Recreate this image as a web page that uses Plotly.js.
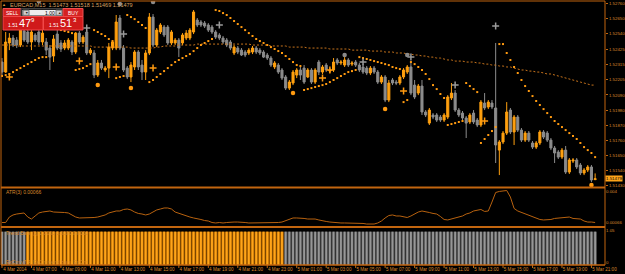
<!DOCTYPE html>
<html><head><meta charset="utf-8">
<script src="https://cdn.plot.ly/plotly-3.0.1.min.js"></script>
<style>html,body{margin:0;padding:0;background:#000;overflow:hidden}#chart{width:625px;height:274px}</style>
</head><body><div id="chart"></div>
<script>
// ---------- data ----------
const symbolTitle = 'EURCAD,M15  1.51473 1.51518 1.51469 1.51479';
const timeLabels = ['4 Mar 2014','4 Mar 07:00','4 Mar 09:00','4 Mar 11:00','4 Mar 13:00','4 Mar 15:00','4 Mar 17:00','4 Mar 19:00','4 Mar 21:00','4 Mar 23:00','5 Mar 01:00','5 Mar 03:00','5 Mar 05:00','5 Mar 07:00','5 Mar 09:00','5 Mar 11:00','5 Mar 13:00','5 Mar 15:00','5 Mar 17:00','5 Mar 19:00','5 Mar 21:00'];
const priceTicks = [1.52760,1.52650,1.52540,1.52425,1.52315,1.52205,1.52090,1.51980,1.51870,1.51760,1.51650,1.51540,1.51430];
const priceTickText = ['1.52760','1.52650','1.52540','1.52425','1.52315','1.52205','1.52090','1.51980','1.51870','1.51760','1.51650','1.51540','1.51430'];
const lastPrice = 1.51479;

const open = [1.52330,1.52257,1.52469,1.52505,1.52490,1.52454,1.52556,1.52549,1.52476,1.52527,
1.52549,1.52476,1.52476,1.52432,1.52374,1.52534,1.52469,1.52432,1.52432,1.52476,
1.52403,1.52541,1.52476,1.52549,1.52396,1.52396,1.52235,1.52323,1.52272,1.52286,
1.52432,1.52432,1.52651,1.52432,1.52286,1.52221,1.52294,1.52403,1.52308,1.52257,
1.52396,1.52658,1.52454,1.52549,1.52585,1.52585,1.52469,1.52469,1.52490,1.52469,
1.52505,1.52505,1.52549,1.52636,1.52622,1.52614,1.52600,1.52585,1.52549,1.52527,
1.52505,1.52490,1.52476,1.52396,1.52432,1.52417,1.52403,1.52396,1.52403,1.52432,
1.52417,1.52403,1.52381,1.52359,1.52294,1.52308,1.52272,1.52221,1.52140,1.52177,
1.52235,1.52272,1.52286,1.52221,1.52272,1.52184,1.52330,1.52257,1.52308,1.52264,
1.52272,1.52345,1.52323,1.52308,1.52345,1.52315,1.52330,1.52308,1.52294,1.52286,
1.52250,1.52286,1.52257,1.52184,1.52221,1.52053,1.52199,1.52184,1.52177,1.52221,
1.52257,1.52294,1.52162,1.52104,1.52155,1.51966,1.51885,1.51944,1.51944,1.51929,
1.51907,1.51929,1.52068,1.52104,1.51980,1.51958,1.51922,1.51893,1.51958,1.51907,
1.51871,1.52031,1.52002,1.52031,1.51995,1.51688,1.51747,1.51812,1.51980,1.51820,
1.51929,1.51834,1.51761,1.51812,1.51740,1.51710,1.51740,1.51820,1.51812,1.51761,
1.51703,1.51674,1.51637,1.51688,1.51528,1.51608,1.51616,1.51579,1.51521,1.51543,
1.51565,1.51473];
const high = [1.52359,1.52549,1.52541,1.52527,1.52512,1.52578,1.52578,1.52563,1.52563,1.52541,
1.52563,1.52563,1.52505,1.52454,1.52527,1.52563,1.52490,1.52490,1.52505,1.52490,
1.52549,1.52556,1.52527,1.52563,1.52432,1.52417,1.52345,1.52345,1.52301,1.52469,
1.52490,1.52673,1.52673,1.52454,1.52301,1.52330,1.52417,1.52417,1.52345,1.52417,
1.52687,1.52680,1.52578,1.52614,1.52600,1.52600,1.52563,1.52505,1.52505,1.52541,
1.52563,1.52578,1.52709,1.52651,1.52636,1.52629,1.52614,1.52600,1.52563,1.52541,
1.52520,1.52505,1.52490,1.52454,1.52447,1.52432,1.52417,1.52432,1.52447,1.52447,
1.52432,1.52417,1.52396,1.52374,1.52337,1.52323,1.52286,1.52235,1.52199,1.52272,
1.52286,1.52294,1.52308,1.52286,1.52286,1.52286,1.52345,1.52308,1.52323,1.52286,
1.52359,1.52359,1.52345,1.52366,1.52359,1.52337,1.52345,1.52323,1.52315,1.52301,
1.52301,1.52301,1.52272,1.52235,1.52235,1.52199,1.52213,1.52199,1.52235,1.52286,
1.52308,1.52330,1.52199,1.52170,1.52199,1.51980,1.51995,1.51958,1.51958,1.51944,
1.51958,1.52089,1.52177,1.52126,1.51995,1.51973,1.51936,1.51958,1.51980,1.51922,
1.52053,1.52104,1.52053,1.52053,1.52469,1.51761,1.51827,1.52038,1.51995,1.51944,
1.51944,1.51849,1.51827,1.51827,1.51754,1.51754,1.51834,1.51834,1.51827,1.51776,
1.51718,1.51688,1.51703,1.51718,1.51630,1.51630,1.51630,1.51594,1.51557,1.51579,
1.51579,1.51518];
const low = [1.52235,1.52250,1.52417,1.52439,1.52432,1.52439,1.52476,1.52461,1.52417,1.52476,
1.52454,1.52454,1.52381,1.52272,1.52330,1.52417,1.52403,1.52417,1.52417,1.52381,
1.52388,1.52461,1.52461,1.52381,1.52381,1.52213,1.52221,1.52272,1.52257,1.52213,
1.52417,1.52417,1.52417,1.52257,1.52206,1.52184,1.52272,1.52272,1.52199,1.52199,
1.52381,1.52439,1.52439,1.52534,1.52512,1.52454,1.52454,1.52454,1.52366,1.52454,
1.52490,1.52490,1.52534,1.52585,1.52585,1.52578,1.52549,1.52534,1.52498,1.52490,
1.52461,1.52439,1.52417,1.52381,1.52388,1.52374,1.52366,1.52381,1.52388,1.52388,
1.52381,1.52359,1.52345,1.52294,1.52279,1.52243,1.52199,1.52126,1.52126,1.52162,
1.52213,1.52199,1.52170,1.52213,1.52170,1.52170,1.52235,1.52243,1.52257,1.52250,
1.52257,1.52308,1.52308,1.52294,1.52294,1.52301,1.52294,1.52257,1.52243,1.52235,
1.52235,1.52243,1.52170,1.52170,1.52038,1.52038,1.52162,1.52162,1.52162,1.52206,
1.52243,1.52089,1.52060,1.52089,1.51944,1.51929,1.51871,1.51914,1.51893,1.51893,
1.51893,1.51914,1.52053,1.51966,1.51929,1.51907,1.51776,1.51878,1.51878,1.51856,
1.51856,1.51980,1.51987,1.51987,1.51594,1.51506,1.51732,1.51798,1.51805,1.51725,
1.51820,1.51747,1.51747,1.51747,1.51696,1.51696,1.51725,1.51769,1.51747,1.51688,
1.51594,1.51623,1.51623,1.51514,1.51514,1.51594,1.51550,1.51506,1.51506,1.51528,
1.51455,1.51469];
const close = [1.52257,1.52476,1.52505,1.52454,1.52454,1.52563,1.52490,1.52476,1.52549,1.52490,
1.52476,1.52541,1.52417,1.52366,1.52498,1.52432,1.52425,1.52469,1.52490,1.52403,
1.52541,1.52476,1.52512,1.52396,1.52417,1.52235,1.52323,1.52286,1.52286,1.52439,
1.52476,1.52622,1.52432,1.52272,1.52221,1.52308,1.52403,1.52294,1.52257,1.52396,
1.52658,1.52454,1.52563,1.52600,1.52527,1.52469,1.52549,1.52490,1.52432,1.52527,
1.52541,1.52563,1.52695,1.52600,1.52600,1.52592,1.52563,1.52549,1.52512,1.52505,
1.52476,1.52454,1.52432,1.52439,1.52403,1.52381,1.52381,1.52417,1.52432,1.52403,
1.52396,1.52366,1.52359,1.52308,1.52323,1.52257,1.52213,1.52140,1.52184,1.52257,
1.52272,1.52235,1.52184,1.52272,1.52184,1.52272,1.52257,1.52294,1.52272,1.52272,
1.52330,1.52323,1.52330,1.52345,1.52308,1.52323,1.52308,1.52272,1.52257,1.52250,
1.52286,1.52257,1.52184,1.52221,1.52053,1.52177,1.52177,1.52177,1.52221,1.52272,
1.52294,1.52104,1.52075,1.52155,1.51966,1.51944,1.51980,1.51929,1.51907,1.51907,
1.51944,1.52075,1.52104,1.51980,1.51944,1.51922,1.51885,1.51944,1.51893,1.51871,
1.52038,1.51995,1.52038,1.52002,1.51725,1.51747,1.51812,1.51966,1.51820,1.51929,
1.51834,1.51761,1.51812,1.51761,1.51710,1.51740,1.51820,1.51783,1.51761,1.51703,
1.51667,1.51637,1.51688,1.51528,1.51616,1.51616,1.51565,1.51521,1.51543,1.51565,
1.51470,1.51479];
const sarValues = [1.52228,1.52235,1.52243,1.52257,1.52272,1.52286,1.52301,1.52315,1.52330,1.52345,
1.52359,1.52366,1.52366,1.52578,1.52578,1.52571,1.52563,1.52556,1.52549,1.52541,
1.52272,1.52279,1.52286,1.52301,1.52315,1.52563,1.52549,1.52534,1.52520,1.52498,
1.52483,1.52213,1.52221,1.52228,1.52673,1.52658,1.52643,1.52622,1.52600,1.52578,
1.52184,1.52199,1.52221,1.52243,1.52264,1.52286,1.52308,1.52330,1.52345,1.52359,
1.52374,1.52388,1.52410,1.52432,1.52454,1.52469,1.52483,1.52498,1.52709,1.52702,
1.52687,1.52673,1.52651,1.52629,1.52607,1.52585,1.52563,1.52541,1.52520,1.52498,
1.52483,1.52469,1.52454,1.52439,1.52425,1.52410,1.52396,1.52374,1.52352,1.52330,
1.52308,1.52301,1.52126,1.52133,1.52140,1.52148,1.52155,1.52162,1.52170,1.52184,
1.52199,1.52213,1.52228,1.52243,1.52257,1.52264,1.52272,1.52366,1.52359,1.52352,
1.52345,1.52337,1.52330,1.52323,1.52315,1.52308,1.52294,1.52286,1.52279,1.52038,
1.52053,1.52330,1.52315,1.52294,1.52272,1.52243,1.52206,1.52162,1.52133,1.52097,
1.52068,1.51871,1.51878,1.51885,1.51893,1.51900,1.52177,1.52155,1.52133,1.52111,
1.51740,1.51769,1.51798,1.51827,1.51856,1.52461,1.52461,1.52396,1.52345,1.52294,
1.52250,1.52199,1.52155,1.52119,1.52082,1.52046,1.52017,1.51987,1.51958,1.51929,
1.51900,1.51878,1.51856,1.51834,1.51812,1.51791,1.51769,1.51740,1.51710,1.51688,
1.51667,1.51637];
const maValues = [1.52454,1.52454,1.52454,1.52454,1.52447,1.52447,1.52447,1.52447,1.52447,1.52447,
1.52447,1.52447,1.52447,1.52447,1.52447,1.52447,1.52447,1.52447,1.52447,1.52447,
1.52447,1.52447,1.52447,1.52447,1.52447,1.52439,1.52439,1.52439,1.52439,1.52439,
1.52439,1.52439,1.52439,1.52439,1.52439,1.52432,1.52432,1.52432,1.52432,1.52432,
1.52432,1.52432,1.52439,1.52439,1.52447,1.52447,1.52447,1.52447,1.52454,1.52454,
1.52454,1.52454,1.52454,1.52461,1.52461,1.52461,1.52461,1.52461,1.52461,1.52461,
1.52461,1.52461,1.52461,1.52461,1.52461,1.52461,1.52461,1.52461,1.52454,1.52454,
1.52454,1.52454,1.52454,1.52447,1.52447,1.52447,1.52447,1.52447,1.52439,1.52439,
1.52439,1.52439,1.52439,1.52432,1.52432,1.52432,1.52432,1.52432,1.52432,1.52425,
1.52425,1.52425,1.52425,1.52425,1.52425,1.52417,1.52417,1.52417,1.52417,1.52417,
1.52410,1.52410,1.52410,1.52410,1.52403,1.52403,1.52403,1.52396,1.52396,1.52396,
1.52388,1.52388,1.52381,1.52381,1.52374,1.52374,1.52366,1.52366,1.52359,1.52359,
1.52352,1.52345,1.52345,1.52337,1.52337,1.52337,1.52330,1.52330,1.52330,1.52323,
1.52323,1.52315,1.52315,1.52308,1.52308,1.52301,1.52301,1.52294,1.52294,1.52286,
1.52279,1.52272,1.52272,1.52264,1.52264,1.52257,1.52257,1.52250,1.52243,1.52243,
1.52235,1.52228,1.52221,1.52213,1.52206,1.52199,1.52192,1.52184,1.52177,1.52170,
1.52162,1.52162];
// signal marks: bar index and price
const markUpCrossIdx = [23, 33, 59, 98, 111, 123, 134];
const markUpCrossVal = [1.52578, 1.52534, 1.52600, 1.52330, 1.52366, 1.52162, 1.52592];
const markDnCrossIdx = [2, 21, 31, 41, 87, 89, 109, 131];
const markDnCrossVal = [1.52221, 1.52337, 1.52294, 1.52286, 1.52213, 1.52272, 1.52119, 1.51900];
const markDnDotIdx = [26, 35, 79, 104, 160];
const markDnDotVal = [1.52162, 1.52140, 1.52104, 1.51987, 1.51433];
const markUpDotIdx = [10, 32, 41, 93, 110];
const markUpDotVal = [1.52774, 1.52753, 1.52767, 1.52381, 1.52381];

const atrValues = [0.00066,0.00066,0.00124,0.00146,0.00156,0.00162,0.00167,0.00124,0.00103,0.00135,
0.00167,0.00177,0.00183,0.00188,0.00177,0.00177,0.00177,0.00172,0.00167,0.00146,
0.00124,0.00114,0.00114,0.00114,0.00114,0.00119,0.00124,0.00135,0.00146,0.00167,
0.00177,0.00188,0.00188,0.00204,0.00209,0.00199,0.00177,0.00162,0.00156,0.00146,
0.00156,0.00177,0.00199,0.00209,0.00220,0.00220,0.00209,0.00177,0.00162,0.00151,
0.00140,0.00124,0.00114,0.00109,0.00098,0.00087,0.00082,0.00066,0.00061,0.00066,
0.00061,0.00066,0.00071,0.00071,0.00071,0.00071,0.00066,0.00061,0.00061,0.00061,
0.00061,0.00061,0.00066,0.00066,0.00061,0.00066,0.00071,0.00087,0.00103,0.00114,
0.00114,0.00114,0.00109,0.00103,0.00103,0.00103,0.00093,0.00082,0.00077,0.00071,
0.00066,0.00061,0.00061,0.00061,0.00061,0.00061,0.00061,0.00061,0.00056,0.00050,
0.00050,0.00050,0.00061,0.00082,0.00114,0.00140,0.00146,0.00135,0.00135,0.00124,
0.00119,0.00135,0.00156,0.00177,0.00188,0.00183,0.00172,0.00162,0.00156,0.00130,
0.00098,0.00093,0.00103,0.00114,0.00124,0.00135,0.00156,0.00167,0.00188,0.00199,
0.00204,0.00183,0.00188,0.00283,0.00384,0.00395,0.00400,0.00405,0.00336,0.00215,
0.00188,0.00172,0.00156,0.00140,0.00124,0.00109,0.00098,0.00093,0.00093,0.00098,
0.00109,0.00114,0.00114,0.00119,0.00124,0.00109,0.00103,0.00103,0.00082,0.00071,
0.00071,0.00066];
// trend bars: o = up (orange), g = none (gray); every bar has value 1
const trendState = ('ggggggg' +
  'oooooooooo' + 'oooooooooo' + 'oooooooooo' + 'oooooooooo' + 'oooooooooo' + 'oooooooooo' + 'oooooooooo' +
  'gggggggggg' + 'gggggggggg' + 'gggggggggg' + 'gggggggggg' + 'gggggggggg' + 'gggggggggg' + 'gggggggggg' + 'gggggggggg' + 'ggggg').split('');
const trendValue = trendState.map(() => 1);

// ---------- layout helpers (pixels -> paper) ----------
const W = 625, H = 274, ML = 1, MR = 20, MT = 1, MB = 9;
const PW = W - ML - MR, PH = H - MT - MB;
const fx = p => (p - ML) / PW;
const fy = p => (H - MB - p) / PH;

const ORANGE = '#FFA00F', GRAY = '#8C8C8C', BORDER = '#C2650F', TXT = '#D8892C';
const FONT = 'Liberation Sans, Arial, sans-serif';
const xs = open.map((_, i) => i);

const traces = [
  { type: 'scatter', mode: 'lines', x: xs, y: maValues, xaxis: 'x', yaxis: 'y',
    line: { color: '#C8741C', width: 1, dash: '2px,2px' }, hoverinfo: 'skip' },
  { type: 'candlestick', x: xs, open: open, high: high, low: low, close: close, xaxis: 'x', yaxis: 'y',
    increasing: { line: { color: ORANGE, width: 1 }, fillcolor: ORANGE },
    decreasing: { line: { color: GRAY, width: 1 }, fillcolor: GRAY },
    whiskerwidth: 0, hoverinfo: 'skip' },
  { type: 'scatter', mode: 'markers', x: xs, y: sarValues, xaxis: 'x', yaxis: 'y',
    marker: { symbol: 'square', size: 2, color: '#FF9A10', line: { width: 0 } }, hoverinfo: 'skip' },
  { type: 'scatter', mode: 'markers', x: markUpCrossIdx, y: markUpCrossVal, xaxis: 'x', yaxis: 'y',
    marker: { symbol: 'cross-thin', size: 5, color: '#9A9A9A', line: { color: '#9A9A9A', width: 1.5 } }, hoverinfo: 'skip' },
  { type: 'scatter', mode: 'markers', x: markDnCrossIdx, y: markDnCrossVal, xaxis: 'x', yaxis: 'y',
    marker: { symbol: 'cross-thin', size: 5, color: '#FF9A10', line: { color: '#FF9A10', width: 1.5 } }, hoverinfo: 'skip' },
  { type: 'scatter', mode: 'markers', x: markDnDotIdx, y: markDnDotVal, xaxis: 'x', yaxis: 'y',
    marker: { symbol: 'circle', size: 4.5, color: '#FF9A10', line: { width: 0 } }, hoverinfo: 'skip' },
  { type: 'scatter', mode: 'markers', x: markUpDotIdx, y: markUpDotVal, xaxis: 'x', yaxis: 'y',
    marker: { symbol: 'circle', size: 4.5, color: '#8A8A8A', line: { width: 0 } }, hoverinfo: 'skip' },
  { type: 'scatter', mode: 'lines', x: xs, y: atrValues, xaxis: 'x', yaxis: 'y2',
    line: { color: '#B8620F', width: 1 }, hoverinfo: 'skip' },
  { type: 'bar', x: xs, y: trendValue, xaxis: 'x', yaxis: 'y3', width: 0.95,
    marker: { color: trendState.map(s => s === 'o' ? '#B86A00' : '#4E4E4E'), line: { width: 0 } }, hoverinfo: 'skip' },
  { type: 'bar', x: xs, y: trendValue, xaxis: 'x', yaxis: 'y3', width: 0.5,
    marker: { color: trendState.map(s => s === 'o' ? '#FFA51A' : '#979797'), line: { width: 0 } }, hoverinfo: 'skip' }
];

const tickIdx = timeLabels.map((_, k) => k * 8);
const hline = (y, w) => ({ type: 'line', xref: 'paper', yref: 'paper', x0: fx(1), x1: fx(605), y0: fy(y), y1: fy(y), line: { color: BORDER, width: w } });
const rect = (x0, y0, x1, y1, fill, line) => ({ type: 'rect', xref: 'paper', yref: 'paper', x0: fx(x0), x1: fx(x1), y0: fy(y0), y1: fy(y1), fillcolor: fill, line: { color: line, width: line ? 1 : 0 }, layer: 'above' });
const txt = (x, y, text, size, color, anchor) => ({ xref: 'paper', yref: 'paper', x: fx(x), y: fy(y), text: text, showarrow: false, xanchor: anchor || 'center', yanchor: 'middle', font: { family: FONT, size: size, color: color } });

const shapes = [
  hline(1, 1), hline(187.5, 2), hline(227, 2), hline(265, 1.5),
  { type: 'line', xref: 'paper', yref: 'paper', x0: fx(1), x1: fx(1), y0: fy(1), y1: fy(265), line: { color: BORDER, width: 1 } },
  { type: 'line', xref: 'paper', yref: 'paper', x0: fx(605), x1: fx(605), y0: fy(1), y1: fy(265), line: { color: BORDER, width: 1 } },
  // one-click trading panel
  rect(3, 8.5, 21, 16.5, '#D42222', '#F05050'),
  rect(21, 8.5, 63, 16.5, '#1E1E1E', '#404040'),
  rect(22.5, 10, 62, 15.5, '#EEEEEE', null),
  rect(23, 10.2, 29, 15.3, '#CFCFCF', '#707070'),
  rect(56, 10.2, 62, 15.3, '#CFCFCF', '#707070'),
  rect(63, 8.5, 83, 16.5, '#D42222', '#F05050'),
  rect(3, 16.5, 43, 30, '#D01A1A', '#F04848'),
  rect(43.5, 16.5, 83, 30, '#D01A1A', '#F04848')
].concat(tickIdx.map(t => ({ type: 'line', xref: 'x', yref: 'paper', x0: t, x1: t, y0: fy(265), y1: fy(268), line: { color: BORDER, width: 1 } })));

const annotations = [
  txt(4, 4.5, '▲', 4, '#E09A3A'),
  txt(8, 4.5, symbolTitle, 5.5, '#D8A060', 'left'),
  txt(12, 12.6, 'SELL', 5, '#FFFFFF'),
  txt(73, 12.6, 'BUY', 5, '#FFFFFF'),
  txt(26, 12.8, '▼', 3.5, '#202020'),
  txt(59, 12.8, '▲', 3.5, '#202020'),
  txt(50, 12.8, '1.00', 5, '#000000'),
  txt(12.5, 25, '1.51', 5, '#FFFFFF'),
  txt(25, 23, '47', 11, '#FFFFFF'),
  txt(33, 20.5, '9', 6, '#FFFFFF'),
  txt(53.5, 25, '1.51', 5, '#FFFFFF'),
  txt(66, 23, '51', 11, '#FFFFFF'),
  txt(75, 20.5, '3', 6, '#FFFFFF'),
  txt(4, 192, 'ATR(3) 0.00066', 5, TXT, 'left'),
  txt(4, 232.5, 'Trend Bars (1) 1.0000 0.0000 0.0000', 5, TXT, 'left'),
  txt(4, 261.5, 'ExCm v7.4  ExCm trend bars  ExCm', 5, TXT, 'left'),
  { xref: 'paper', yref: 'y', x: 1, y: lastPrice, text: '1.51479', showarrow: false, xanchor: 'left', yanchor: 'middle',
    xshift: 0, bgcolor: '#FFA51A', borderpad: 0, font: { family: FONT, size: 4.4, color: '#000' } }
];

const axisFont = { family: FONT, size: 4.6, color: TXT };
const yFont = { family: FONT, size: 4.4, color: TXT };
const layout = {
  width: W, height: H, margin: { l: ML, r: MR, t: MT, b: MB, pad: 0 },
  paper_bgcolor: '#000', plot_bgcolor: '#000', showlegend: false,
  boxgap: 0.3, boxgroupgap: 0.2, barmode: 'overlay', dragmode: false,
  xaxis: { domain: [0, 1], range: [-0.27, 163.68], anchor: 'y3', tickvals: tickIdx, ticktext: timeLabels,
    ticks: '', tickfont: axisFont, ticklabelshift: 13,
    showgrid: false, zeroline: false, showline: false, rangeslider: { visible: false }, fixedrange: true },
  yaxis: { domain: [fy(187), 1], range: [1.51419, 1.52775], side: 'right', anchor: 'x', tickvals: priceTicks, ticktext: priceTickText,
    ticks: 'outside', ticklen: 2, tickcolor: BORDER, tickfont: yFont, showgrid: false, zeroline: false, showline: false, fixedrange: true },
  yaxis2: { domain: [fy(226), fy(189)], range: [0.00029, 0.00421], side: 'right', anchor: 'x', tickvals: [0.0040, 0.00066], ticktext: ['0.004', '0.00066'],
    ticks: '', tickfont: yFont, showgrid: false, zeroline: false, showline: false, fixedrange: true },
  yaxis3: { domain: [0, fy(228)], range: [0, 1.11], side: 'right', anchor: 'x', tickvals: [1.05, 0.09], ticktext: ['1.05', '0'],
    ticks: '', tickfont: yFont, showgrid: false, zeroline: false, showline: false, fixedrange: true },
  shapes: shapes, annotations: annotations
};

Plotly.newPlot('chart', traces, layout, { staticPlot: true, displayModeBar: false });
</script>
</body></html>
